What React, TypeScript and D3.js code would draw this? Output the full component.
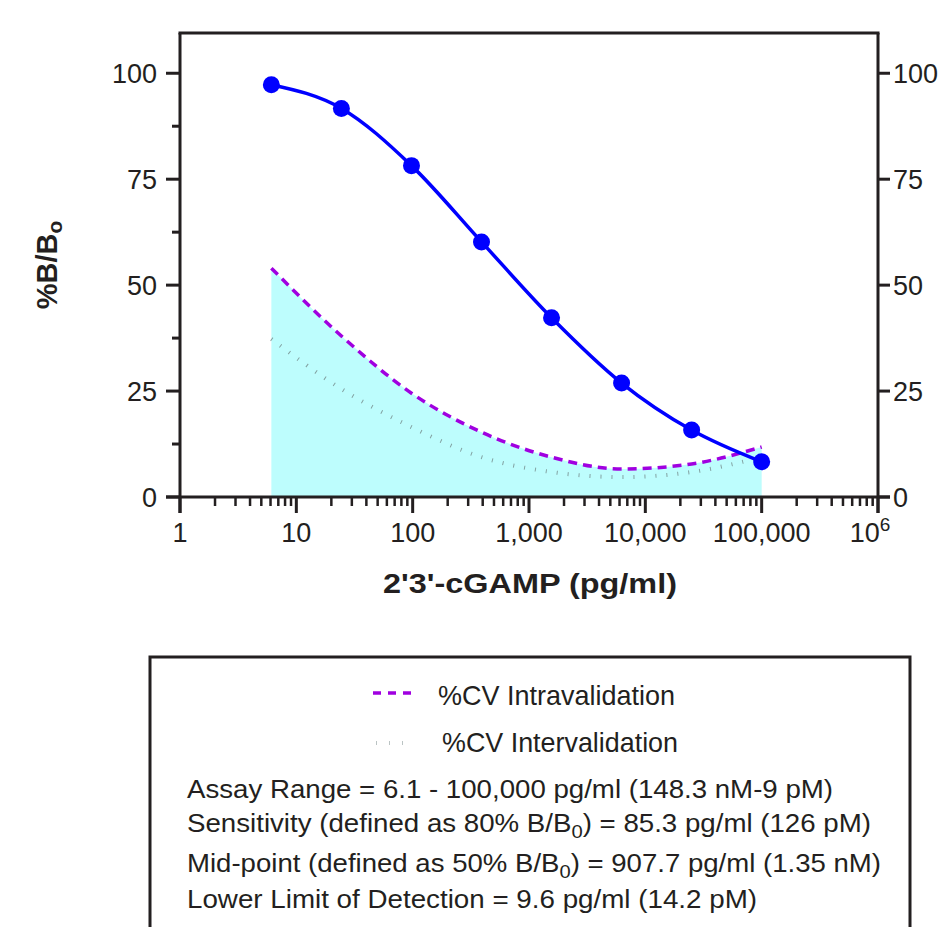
import React from 'react';
import * as d3 from 'd3';

// standards (pg/ml) and mean %B/B0
const conc = [6.1, 24.4, 97.7, 390.6, 1562.5, 6250, 25000, 100000];
const bb0 = [97.3, 91.7, 78.2, 60.2, 42.3, 26.9, 15.8, 8.3];
// %CV curves read at the same standards
const cvIntra = [54.0, 38.0, 24.5, 15.3, 9.4, 6.6, 7.8, 11.8];
const cvInter = [37.3, 25.5, 16.5, 9.4, 5.9, 4.7, 5.9, 9.4];

const yTicks = [0, 25, 50, 75, 100];
const yMinor = [12.5, 37.5, 62.5, 87.5];
const xDecades = [1, 10, 100, 1000, 10000, 100000, 1000000];
const xLabels = ['1', '10', '100', '1,000', '10,000', '100,000'];

const infoLines = [
  'Assay Range = 6.1 - 100,000 pg/ml (148.3 nM-9 pM)',
  'Sensitivity (defined as 80% B/B|0|) = 85.3 pg/ml (126 pM)',
  'Mid-point (defined as 50% B/B|0|) = 907.7 pg/ml (1.35 nM)',
  'Lower Limit of Detection = 9.6 pg/ml (14.2 pM)',
];
const infoBase = [798, 832, 872, 908];
const infoLen = [646, 684, 694, 570];

const W = 941;
const H = 927;
const FONT = 'Liberation Sans, Arial, Helvetica, sans-serif';
const AX = '#231f20';
const PURPLE = '#a000e0';

function App() {
  const x = d3.scaleLog().domain([1, 1e6]).range([180, 878]);
  const y = d3.scaleLinear().domain([0, 109.5]).range([497, 33]);
  const y0 = y(0);

  const pts = conc.map((c, i) => ({ c, v: bb0[i] }));
  const line = d3.line<{ c: number; v: number }>()
    .x(d => x(d.c))
    .y(d => y(d.v))
    .curve(d3.curveMonotoneX);
  const area = d3.area<{ c: number; v: number }>()
    .x(d => x(d.c))
    .y0(y0)
    .y1(d => y(d.v))
    .curve(d3.curveMonotoneX);

  const intra = conc.map((c, i) => ({ c, v: cvIntra[i] }));
  const inter = conc.map((c, i) => ({ c, v: cvInter[i] }));

  const minorX = x.ticks().filter(t => !xDecades.includes(t));

  const xLeft = x.range()[0];
  const xRight = x.range()[1];
  const yTop = y.range()[1];

  const renderInfo = (s: string) => {
    const parts = s.split('|');
    return parts.map((p, i) =>
      i % 2 === 1 ? (
        <tspan key={i} fontSize={19} dy={6}>{p}</tspan>
      ) : (
        <tspan key={i} dy={i === 0 ? 0 : -6}>{p}</tspan>
      )
    );
  };

  return (
    <svg width={W} height={H} style={{ position: 'absolute', left: 0, top: 0, background: '#fff' }}
      fontFamily={FONT}>
      {/* CV fill */}
      <path d={area(intra) || ''} fill="#bdfdfd" />
      <path d={line(inter) || ''} fill="none" stroke="#6a7a7a" strokeWidth={4} strokeDasharray="1 10" opacity={0.7} />
      <path d={line(intra) || ''} fill="none" stroke={PURPLE} strokeWidth={3.5} strokeDasharray="9 6" />

      {/* standard curve */}
      <path d={line(pts) || ''} fill="none" stroke="#0000ff" strokeWidth={3.5} />
      {pts.map((d, i) => (
        <circle key={i} cx={x(d.c)} cy={y(d.v)} r={8.5} fill="#0000ff" />
      ))}

      {/* frame */}
      <g stroke={AX} strokeWidth={3} fill="none">
        <line x1={xLeft} x2={xLeft} y1={yTop} y2={513} />
        <line x1={xRight} x2={xRight} y1={yTop} y2={513} />
        <line x1={xLeft - 1.5} x2={xRight + 1.5} y1={yTop} y2={yTop} />
        <line x1={166} x2={890} y1={y0} y2={y0} />
        {yTicks.map(t => (
          <g key={t}>
            <line x1={166} x2={xLeft} y1={y(t)} y2={y(t)} />
            <line x1={xRight} x2={890} y1={y(t)} y2={y(t)} />
          </g>
        ))}
        {yMinor.map(t => (
          <line key={t} x1={172} x2={xLeft} y1={y(t)} y2={y(t)} />
        ))}
        {xDecades.map(t => (
          <line key={t} x1={x(t)} x2={x(t)} y1={y0} y2={513} />
        ))}
        {minorX.map(t => (
          <line key={t} x1={x(t)} x2={x(t)} y1={y0} y2={506} strokeWidth={2.5} />
        ))}
      </g>

      {/* tick labels */}
      <g fontSize={27} fill={AX}>
        {yTicks.map(t => (
          <text key={'l' + t} x={157} y={y(t)} dy="0.36em" textAnchor="end">{t}</text>
        ))}
        {yTicks.map(t => (
          <text key={'r' + t} x={893} y={y(t)} dy="0.36em">{t}</text>
        ))}
        {xLabels.map((l, i) => (
          <text key={l} x={x(xDecades[i])} y={542} textAnchor="middle">{l}</text>
        ))}
        <text x={x(1e6) - 8} y={542} textAnchor="middle">
          10<tspan fontSize={19} dy={-11}>6</tspan>
        </text>
      </g>

      {/* axis titles */}
      <text x={530} y={593} textAnchor="middle" fontSize={27} fontWeight="bold" fill={AX}
        textLength={294} lengthAdjust="spacingAndGlyphs">2'3'-cGAMP  (pg/ml)</text>
      <text transform="translate(57,265) rotate(-90)" textAnchor="middle" fontSize={29} fontWeight="bold" fill={AX}>
        %B/B<tspan fontSize={21} dy={5}>o</tspan>
      </text>

      {/* legend box */}
      <rect x={150} y={657} width={760} height={300} fill="none" stroke={AX} strokeWidth={3} />
      <line x1={373} x2={413} y1={693} y2={693} stroke={PURPLE} strokeWidth={3.5} strokeDasharray="8 7" />
      <line x1={376} x2={406} y1={743} y2={743} stroke="#7a8a8a" strokeWidth={4} strokeDasharray="1 12" opacity={0.5} />
      <g fontSize={27.5} fill={AX}>
        <text x={438} y={705} textLength={237} lengthAdjust="spacingAndGlyphs">%CV Intravalidation</text>
        <text x={442} y={752} textLength={236} lengthAdjust="spacingAndGlyphs">%CV Intervalidation</text>
      </g>
      <g fontSize={26} fill={AX}>
        {infoLines.map((s, i) => (
          <text key={i} x={187} y={infoBase[i]} textLength={infoLen[i]} lengthAdjust="spacingAndGlyphs">
            {renderInfo(s)}
          </text>
        ))}
      </g>
    </svg>
  );
}

export default App;
